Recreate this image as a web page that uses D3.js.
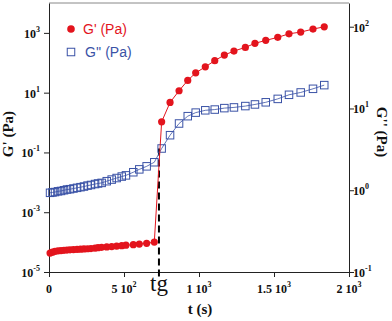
<!DOCTYPE html>
<html><head><meta charset="utf-8">
<script src="https://cdn.jsdelivr.net/npm/d3@7"></script>
<style>body{margin:0;background:#fff}svg{display:block}</style>
</head><body>
<svg id="c" width="392" height="321"></svg>
<script>
// ---- data ----
const times = [7,23,40,60,80,100,120,140,163,187,210,233,257,280,307,327,351,385,418,451,485,513,562,602,651,702,
  751,807,867,925,978,1042,1105,1169,1233,1309,1373,1445,1525,1600,1678,1760,1835];
const gPrime = [4.3e-5,4.6e-5,4.9e-5,5.1e-5,5.2e-5,5.3e-5,5.4e-5,5.5e-5,5.6e-5,5.7e-5,5.8e-5,5.9e-5,6.0e-5,6.1e-5,6.3e-5,6.5e-5,6.7e-5,6.9e-5,7.1e-5,7.3e-5,7.6e-5,7.9e-5,8.2e-5,8.6e-5,9.1e-5,1.0e-4,
  1.06,4.7,11.6,25.7,46,73,118,181,247,327,446,562,708,933,1064,1340,1600];
const gDouble = [0.93,0.94,0.95,0.97,0.98,1.00,1.02,1.03,1.05,1.07,1.09,1.11,1.14,1.16,1.19,1.21,1.23,1.29,1.35,1.41,1.47,1.52,1.66,1.80,1.96,2.20,
  3.24,4.71,6.55,8.05,8.9,9.5,9.7,10.1,10.3,10.7,11.2,11.9,13.1,14.7,15.7,17.4,19.3];
const xTicks = [0,500,1000,1500,2000];
const xTickLabels = [["0",""],["5 10","2"],["1 10","3"],["1.5 10","3"],["2 10","3"]];
const leftTicks = [1e-5,1e-3,1e-1,1e1,1e3];
const leftExp = ["-5","-3","-1","1","3"];
const rightTicks = [0.1,1,10,100];
const rightExp = ["-1","0","1","2"];
const tGel = 733;
const legendLabels = ["G' (Pa)","G'' (Pa)"];

// ---- layout ----
const L = 49, R = 349, T = 3, B = 272;
const red = "#e3141d", blue = "#3a52a6";
const svg = d3.select("#c");
const x = d3.scaleLinear().domain([0,2000]).range([L,R]);
const yL = d3.scaleLog().domain([1e-5,1e4]).range([B,T]);
const yR = d3.scaleLog().domain([0.1,195]).range([B,T]);
const serif = "'Liberation Serif','Times New Roman',serif";

// frame top
svg.append("line").attr("x1",L).attr("x2",R).attr("y1",T).attr("y2",T).attr("stroke","#888").attr("stroke-width",1);

// axes
const axB = svg.append("g").attr("transform",`translate(0,${B})`)
  .call(d3.axisBottom(x).tickValues(xTicks).tickFormat("").tickSize(5).tickSizeOuter(0));
const axL = svg.append("g").attr("transform",`translate(${L},0)`)
  .call(d3.axisLeft(yL).tickValues(leftTicks).tickFormat("").tickSize(5).tickSizeOuter(0));
const axR = svg.append("g").attr("transform",`translate(${R},0)`)
  .call(d3.axisRight(yR).tickValues(rightTicks).tickFormat("").tickSize(5).tickSizeOuter(0));
[axB,axL,axR].forEach(a=>{a.selectAll("path,line").attr("stroke","#222").attr("stroke-width",1);});

// tick labels
xTicks.forEach((v,i)=>{
  const t = svg.append("text").attr("x",x(v)).attr("y",B+21).attr("text-anchor","middle")
    .attr("font-family",serif).attr("font-weight","bold").attr("font-size",12).attr("fill","#111");
  t.append("tspan").text(xTickLabels[i][0]);
  if (xTickLabels[i][1]) t.append("tspan").attr("dy",-6).attr("font-size",8).text(xTickLabels[i][1]);
});
leftTicks.forEach((v,i)=>{
  const t = svg.append("text").attr("x",L-9).attr("y",yL(v)+5).attr("text-anchor","end")
    .attr("font-family",serif).attr("font-weight","bold").attr("font-size",12).attr("fill","#111");
  t.append("tspan").text("10");
  t.append("tspan").attr("dy",-6).attr("font-size",8).text(leftExp[i]);
});
rightTicks.forEach((v,i)=>{
  const t = svg.append("text").attr("x",R+4).attr("y",yR(v)+5).attr("text-anchor","start")
    .attr("font-family",serif).attr("font-weight","bold").attr("font-size",12).attr("fill","#111");
  t.append("tspan").text("10");
  t.append("tspan").attr("dy",-6).attr("font-size",8).text(rightExp[i]);
});

// axis titles
svg.append("text").attr("transform","translate(13,134) rotate(-90)").attr("text-anchor","middle")
  .attr("font-family",serif).attr("font-weight","bold").attr("font-size",15).attr("fill","#111").text("G' (Pa)");
svg.append("text").attr("transform","translate(377,132) rotate(90)").attr("text-anchor","middle")
  .attr("font-family",serif).attr("font-weight","bold").attr("font-size",15).attr("fill","#111").text("G'' (Pa)");
svg.append("text").attr("x",200).attr("y",314).attr("text-anchor","middle")
  .attr("font-family",serif).attr("font-weight","bold").attr("font-size",15).attr("fill","#111").text("t (s)");
svg.append("text").attr("x",x(tGel)).attr("y",291).attr("text-anchor","middle")
  .attr("font-family",serif).attr("font-size",23).attr("fill","#111").text("tg");

// dashed gel line
const gelIdx = 26;
svg.append("line").attr("x1",x(tGel)).attr("x2",x(tGel)).attr("y1",yR(gDouble[gelIdx])).attr("y2",B+6)
  .attr("stroke","#000").attr("stroke-width",2).attr("stroke-dasharray","7,4");

const pts = times.map((t,i)=>({t, gp:gPrime[i], gd:gDouble[i]}));
// G'' line + squares
svg.append("path").datum(pts).attr("fill","none").attr("stroke",blue).attr("stroke-width",0.8)
  .attr("d",d3.line().x(d=>x(d.t)).y(d=>yR(d.gd)));
const s = 7.5;
svg.append("g").selectAll("rect").data(pts).join("rect")
  .attr("x",d=>x(d.t)-s/2).attr("y",d=>yR(d.gd)-s/2).attr("width",s).attr("height",s)
  .attr("fill","none").attr("stroke",blue).attr("stroke-width",1);
// G' line + dots
svg.append("path").datum(pts).attr("fill","none").attr("stroke",red).attr("stroke-width",1)
  .attr("d",d3.line().x(d=>x(d.t)).y(d=>yL(d.gp)));
svg.append("g").selectAll("circle").data(pts).join("circle")
  .attr("cx",d=>x(d.t)).attr("cy",d=>yL(d.gp)).attr("r",3.6).attr("fill",red);

// legend
svg.append("circle").attr("cx",71).attr("cy",29).attr("r",3.8).attr("fill",red);
svg.append("text").attr("x",83).attr("y",34).attr("font-family","'Liberation Sans',Arial,sans-serif")
  .attr("font-size",14).attr("fill",red).text(legendLabels[0]);
svg.append("rect").attr("x",71-s/2).attr("y",52-s/2).attr("width",s).attr("height",s)
  .attr("fill","none").attr("stroke",blue).attr("stroke-width",1);
svg.append("text").attr("x",85).attr("y",57).attr("font-family","'Liberation Sans',Arial,sans-serif")
  .attr("font-size",14).attr("fill",blue).text(legendLabels[1]);
</script>
</body></html>
